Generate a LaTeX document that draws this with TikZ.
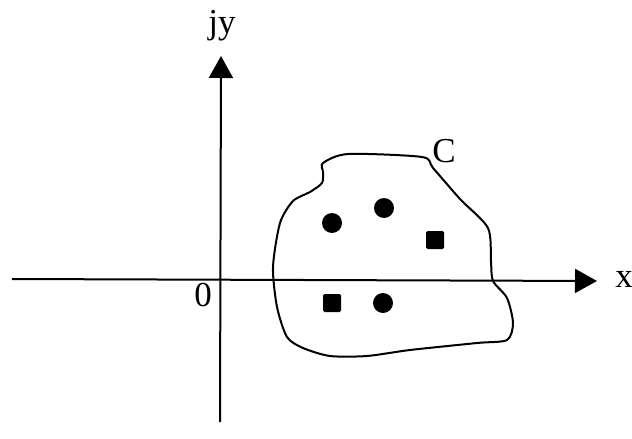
\documentclass[tikz,border=0pt]{standalone}
\usepackage{fontspec}
\setmainfont{Liberation Serif}
\usetikzlibrary{arrows.meta}
\begin{document}
\begin{tikzpicture}[x=1pt,y=-1pt,
  axis/.style={line width=2pt,-{Triangle[length=22pt,width=24pt]}},
  contour/.style={line width=2pt},
  lbl/.style={font=\fontsize{35}{40}\selectfont,inner sep=0pt},
  dot/.style={circle,fill=black,minimum size=20pt,inner sep=0pt},
  sq/.style={rectangle,fill=black,minimum size=18pt,inner sep=0pt,rounded corners=1.5pt}]
\useasboundingbox (0,0) rectangle (632,439);
\coordinate (xs) at (12,279);
\coordinate (xe) at (597,281);
\coordinate (ys) at (220,422);
\coordinate (ye) at (221,56);
\draw[axis] (xs) -- (xe);
\draw[axis] (ys) -- (ye);
\node[lbl] (jy) at (222,26) {jy};
\node[lbl] (xl) at (624,279) {x};
\node[lbl] (zero) at (203,295) {0};
\node[lbl] (C) at (444,151) {C};
\draw[contour] plot[smooth cycle,tension=0.45] coordinates {
 (323,163) (348,154) (422,157) (433,168) (460,199) (488,228)
 (491,262) (493,281) (507,298) (513,323) (507,340) (477,343)
 (410,350) (367,356) (330,356) (303,348) (287,337) (277,307)
 (273,267) (280,223) (293,201) (310,192) (322,183) (323,172)};
\node[dot] (d1) at (332,223) {};
\node[dot] (d2) at (384,208) {};
\node[sq] (s1) at (435,240) {};
\node[sq] (s2) at (332,303) {};
\node[dot] (d3) at (383,303) {};
\end{tikzpicture}
\end{document}
